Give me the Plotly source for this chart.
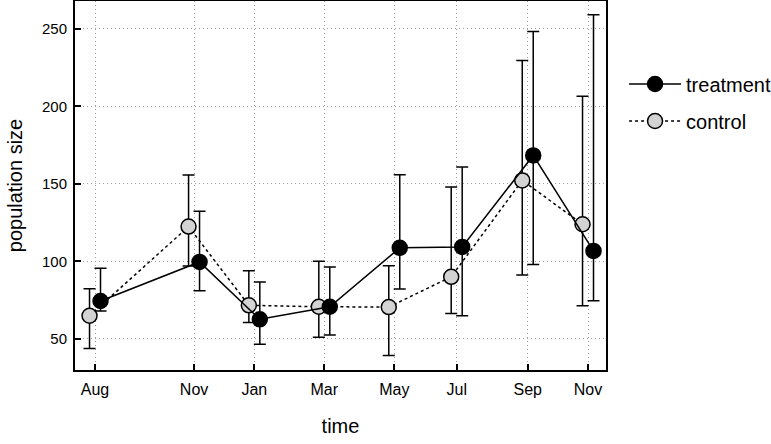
import plotly.graph_objects as go

# sampling times (days since first sampling) and month labels
days = [0, 92, 148, 213, 278, 336, 402, 458]
month_labels = ["Aug", "Nov", "Jan", "Mar", "May", "Jul", "Sep", "Nov"]

treat_mean = [74.5, 99.7, 62.7, 70.8, 108.8, 109.4, 168.4, 106.8]
treat_upper = [95.7, 132.4, 86.7, 96.5, 156.0, 160.9, 248.4, 259.1]
treat_lower = [68.0, 81.1, 46.6, 52.6, 82.2, 65.0, 98.0, 74.6]

ctrl_mean = [65.0, 122.5, 71.7, 70.8, 70.6, 90.1, 152.3, 124.0]
ctrl_upper = [82.4, 155.7, 94.0, 100.2, 97.2, 148.0, 229.7, 206.6]
ctrl_lower = [43.8, 97.0, 60.7, 51.1, 39.3, 66.5, 91.2, 71.4]

y_ticks = [50, 100, 150, 200, 250]

dodge = 5.1  # horizontal offset between groups (days)

FONT = "Liberation Sans, Arial, sans-serif"

fig = go.Figure()

fig.add_trace(go.Scatter(
    x=[d - dodge for d in days], y=ctrl_mean, name="control",
    mode="lines+markers", legendgroup="c",
    line=dict(color="black", width=1.5, dash="dot"),
    marker=dict(size=15, color="#d3d3d3", line=dict(color="black", width=1.5)),
    error_y=dict(type="data", symmetric=False,
                 array=[u - m for u, m in zip(ctrl_upper, ctrl_mean)],
                 arrayminus=[m - l for m, l in zip(ctrl_mean, ctrl_lower)],
                 color="black", thickness=1.5, width=6),
    legendrank=2,
))

fig.add_trace(go.Scatter(
    x=[d + dodge for d in days], y=treat_mean, name="treatment",
    mode="lines+markers", legendgroup="t",
    line=dict(color="black", width=1.5),
    marker=dict(size=15, color="black", line=dict(color="black", width=1.5)),
    error_y=dict(type="data", symmetric=False,
                 array=[u - m for u, m in zip(treat_upper, treat_mean)],
                 arrayminus=[m - l for m, l in zip(treat_mean, treat_lower)],
                 color="black", thickness=1.5, width=6),
    legendrank=1,
))

axis_common = dict(
    showline=True, linecolor="black", linewidth=2, mirror=True,
    ticks="inside", ticklen=6, tickwidth=1.5, tickcolor="black",
    showgrid=True, gridcolor="#a0a0a0", gridwidth=1, griddash="1px,3px",
    zeroline=False,
)

fig.update_xaxes(
    **axis_common,
    range=[-18.6, 474.7],
    tickmode="array", tickvals=days, ticktext=month_labels,
    tickfont=dict(family=FONT, size=16, color="black"),
    ticklabelstandoff=4,
    title=dict(text="time", font=dict(family=FONT, size=20, color="black"), standoff=22),
)
fig.update_yaxes(
    **axis_common,
    range=[30, 268],
    tickmode="array", tickvals=y_ticks,
    tickfont=dict(family=FONT, size=15, color="black"),
    ticklabelstandoff=3,
    title=dict(text="population size", font=dict(family=FONT, size=20, color="black"), standoff=14),
)

fig.update_layout(
    width=771, height=444,
    margin=dict(l=75, r=165, t=1, b=74, autoexpand=False),
    plot_bgcolor="white", paper_bgcolor="white",
    font=dict(family=FONT, color="black"),
    showlegend=True,
    legend=dict(x=1.034, y=0.725, xanchor="left", yanchor="middle",
                font=dict(family=FONT, size=20, color="black"),
                bgcolor="rgba(0,0,0,0)", itemwidth=52, tracegroupgap=8),
)

fig.write_html("out.html")
